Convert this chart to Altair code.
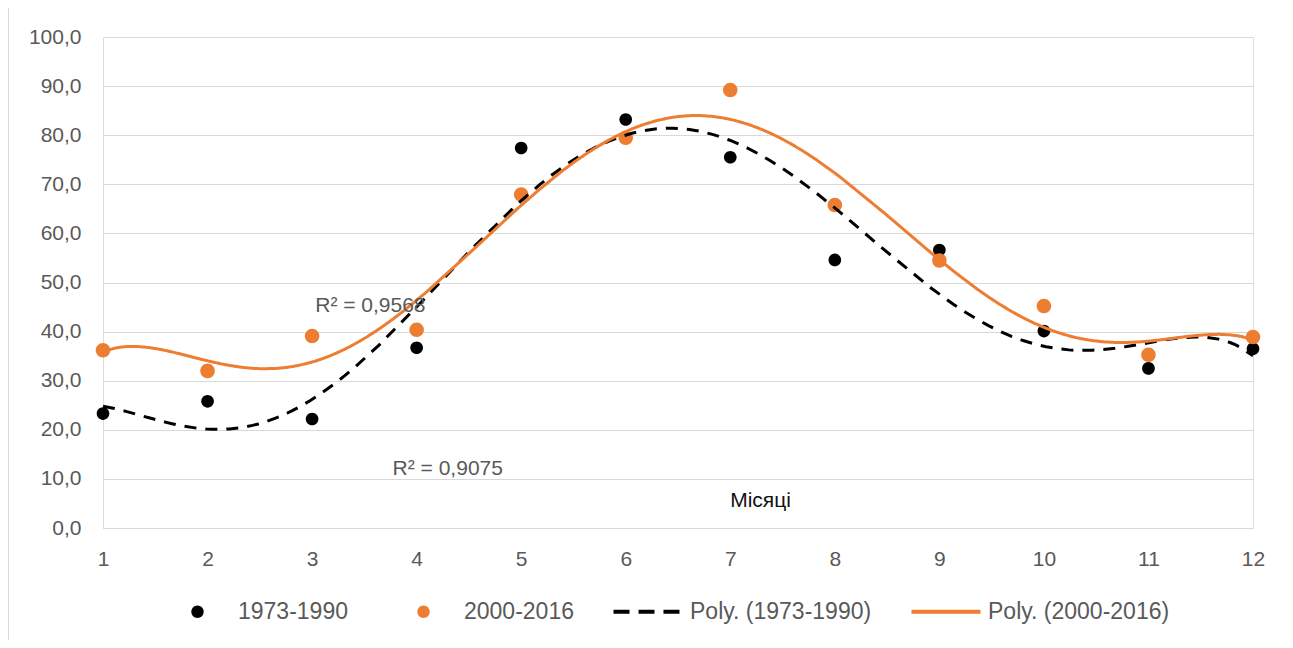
import altair as alt
import pandas as pd

# ---- data ----
months = list(range(1, 13))
series_a = "1973-1990"
series_b = "2000-2016"
values_a = [23.3, 25.8, 22.2, 36.7, 77.4, 83.2, 75.5, 54.6, 56.6, 40.1, 32.5, 36.5]
values_b = [36.2, 32.0, 39.1, 40.4, 67.9, 79.5, 89.2, 65.8, 54.5, 45.2, 35.3, 38.9]
legend_labels = [series_a, series_b, "Poly. (1973-1990)", "Poly. (2000-2016)"]
r2_labels = ["R\u00b2 = 0,9568", "R\u00b2 = 0,9075"]
x_ticks = months
y_ticks = list(range(0, 101, 10))
x_title = "Місяці"

df = pd.DataFrame({
    "month": months * 2,
    "value": values_a + values_b,
    "series": [series_a] * 12 + [series_b] * 12,
})

FONT = "Liberation Sans"
GRAY = "#595959"
ORANGE = "#ED7D31"
BLACK = "#000000"

# symbol shapes (unit box); a leading move-to keeps every legend entry the same width
CIRCLE_PATH = "M-6.57,0M1.13,0A1.13,1.13 0 1,1 -1.13,0A1.13,1.13 0 1,1 1.13,0Z"
DASH_PATH = ("M-6.57,-0.37H-3.65V0.37H-6.57Z M-2.0,-0.37H0.91V0.37H-2.0Z "
             "M2.55,-0.37H5.47V0.37H2.55Z")
LINE_PATH = "M-6.57,-0.37H6.02V0.37H-6.57Z"

color_scale = alt.Scale(domain=legend_labels, range=[BLACK, ORANGE, BLACK, ORANGE])
shape_scale = alt.Scale(domain=legend_labels, range=[CIRCLE_PATH, CIRCLE_PATH, DASH_PATH, LINE_PATH])
dash_scale = alt.Scale(domain=legend_labels, range=[[1, 0], [1, 0], [12, 9], [1, 0]])

legend = alt.Legend(
    title=None, orient="none", direction="horizontal", legendX=83, legendY=563,
    labelFont=FONT, labelFontSize=23, labelColor=GRAY, labelOffset=29, labelLimit=400,
    symbolSize=120, symbolStrokeWidth=0, columnPadding=39, padding=0,
)

x_axis = alt.Axis(
    values=x_ticks, format="d", grid=False, domain=False, ticks=False, labelFlush=False,
    labelFont=FONT, labelFontSize=21, labelColor=GRAY, labelPadding=20,
    title=x_title, titleX=657, titleY=-22, titleBaseline="alphabetic", titleAlign="center",
    titleFont=FONT, titleFontSize=21, titleFontWeight="normal", titleColor="#111111",
)
y_axis = alt.Axis(
    values=y_ticks, grid=True, gridColor="#d9d9d9", gridWidth=1, domain=False, ticks=False,
    labelFont=FONT, labelFontSize=21, labelColor=GRAY, labelPadding=22,
    labelExpr="replace(format(datum.value, '.1f'), '.', ',')", title=None,
)

x_enc = alt.X("month:Q", scale=alt.Scale(domain=[1, 12], nice=False, zero=False), axis=x_axis)
y_enc = alt.Y("value:Q", scale=alt.Scale(domain=[0, 100], nice=False), axis=y_axis)

points = alt.Chart(df).transform_calculate(label="datum.series").mark_point(
    filled=True, opacity=1, strokeWidth=0
).encode(
    x=x_enc,
    y=y_enc,
    color=alt.Color("label:N", scale=color_scale, legend=legend),
    shape=alt.Shape("label:N", scale=shape_scale, legend=legend),
    size=alt.condition(f"datum.series == '{series_b}'", alt.value(165), alt.value(125)),
)

lines = alt.Chart(df).transform_regression(
    "month", "value", method="poly", order=6, groupby=["series"]
).transform_calculate(
    label="'Poly. (' + datum.series + ')'"
).mark_line(strokeWidth=3).encode(
    x="month:Q",
    y="value:Q",
    color=alt.Color("label:N", scale=color_scale, legend=legend),
    strokeDash=alt.StrokeDash("label:N", scale=dash_scale, legend=None),
)

r2_top = alt.Chart(alt.Data(values=[{}])).mark_text(
    align="left", baseline="alphabetic", font=FONT, fontSize=21, color=GRAY
).encode(x=alt.datum(3.03), y=alt.datum(43.9), text=alt.value(r2_labels[0]))

r2_bottom = alt.Chart(alt.Data(values=[{}])).mark_text(
    align="left", baseline="alphabetic", font=FONT, fontSize=21, color=GRAY
).encode(x=alt.datum(3.77), y=alt.datum(10.8), text=alt.value(r2_labels[1]))

border = alt.Chart(alt.Data(values=[{}])).mark_rule(color="#d9d9d9", strokeWidth=2).encode(
    x=alt.value(-95), y=alt.value(-29), y2=alt.value(620)
)

chart = alt.layer(points, lines, r2_top, r2_bottom, border).properties(
    width=1150, height=491,
    padding={"left": 95, "top": 29, "right": 32, "bottom": 112},
    autosize=alt.AutoSizeParams(type="none"),
).configure_view(stroke=None).configure(background="white")

chart.save("out.html", embed_options={"renderer": "svg", "actions": False})
